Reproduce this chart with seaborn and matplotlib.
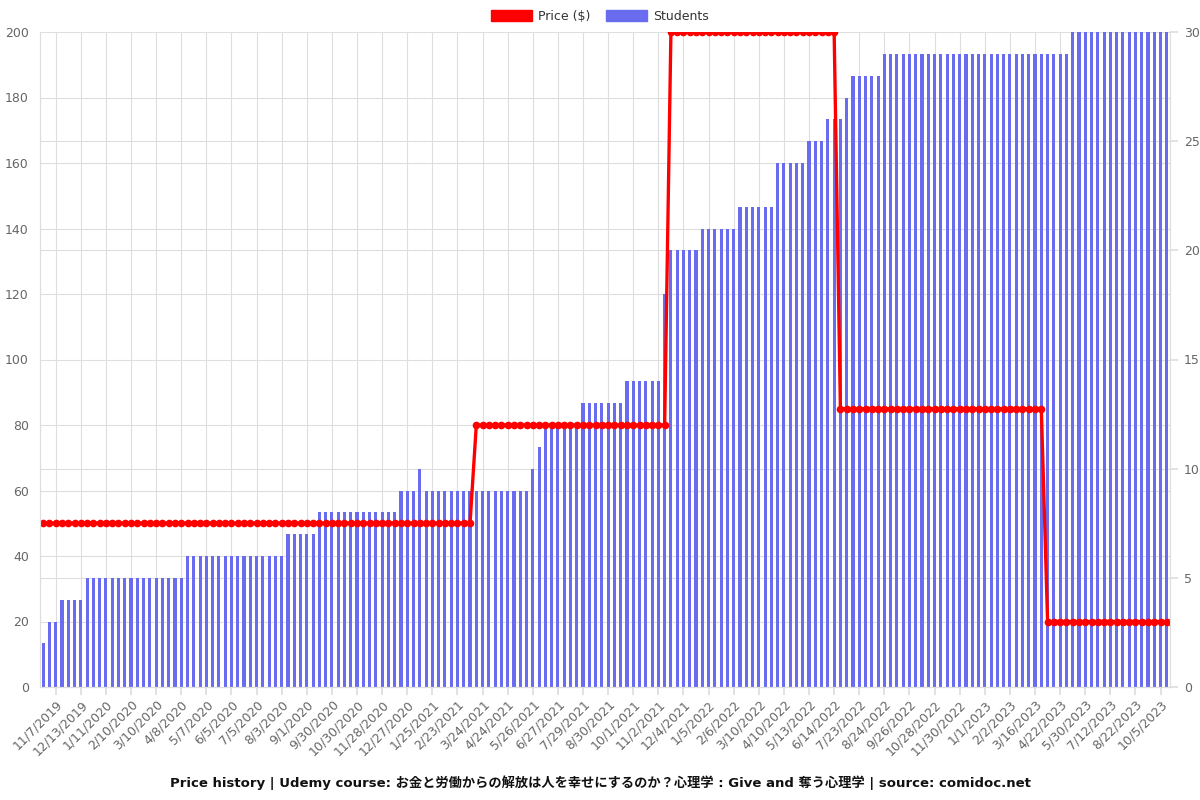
import numpy as np
import pandas as pd
import matplotlib
matplotlib.use("Agg")
import matplotlib.pyplot as plt
from matplotlib.patches import Patch
import seaborn as sns

# ---------------- data ----------------
students = [
    2, 3, 3, 4, 4, 4, 4, 5, 5, 5, 5, 5, 5, 5, 5, 5, 5, 5, 5, 5,
    5, 5, 5, 6, 6, 6, 6, 6, 6, 6, 6, 6, 6, 6, 6, 6, 6, 6, 6, 7,
    7, 7, 7, 7, 8, 8, 8, 8, 8, 8, 8, 8, 8, 8, 8, 8, 8, 9, 9, 9,
    10, 9, 9, 9, 9, 9, 9, 9, 9, 9, 9, 9, 9, 9, 9, 9, 9, 9, 10, 11,
    12, 12, 12, 12, 12, 12, 13, 13, 13, 13, 13, 13, 13, 14, 14, 14, 14, 14, 14, 18,
    20, 20, 20, 20, 20, 21, 21, 21, 21, 21, 21, 22, 22, 22, 22, 22, 22, 24, 24, 24,
    24, 24, 25, 25, 25, 26, 26, 26, 27, 28, 28, 28, 28, 28, 29, 29, 29, 29, 29, 29,
    29, 29, 29, 29, 29, 29, 29, 29, 29, 29, 29, 29, 29, 29, 29, 29, 29, 29, 29, 29,
    29, 29, 29, 29, 30, 30, 30, 30, 30, 30, 30, 30, 30, 30, 30, 30, 30, 30, 30, 30,
]

price = [
    50, 50, 50, 50, 50, 50, 50, 50, 50, 50, 50, 50, 50, 50, 50, 50, 50, 50, 50, 50,
    50, 50, 50, 50, 50, 50, 50, 50, 50, 50, 50, 50, 50, 50, 50, 50, 50, 50, 50, 50,
    50, 50, 50, 50, 50, 50, 50, 50, 50, 50, 50, 50, 50, 50, 50, 50, 50, 50, 50, 50,
    50, 50, 50, 50, 50, 50, 50, 50, 50, 80, 80, 80, 80, 80, 80, 80, 80, 80, 80, 80,
    80, 80, 80, 80, 80, 80, 80, 80, 80, 80, 80, 80, 80, 80, 80, 80, 80, 80, 80, 80,
    200, 200, 200, 200, 200, 200, 200, 200, 200, 200, 200, 200, 200, 200, 200, 200, 200, 200, 200, 200,
    200, 200, 200, 200, 200, 200, 200, 85, 85, 85, 85, 85, 85, 85, 85, 85, 85, 85, 85, 85,
    85, 85, 85, 85, 85, 85, 85, 85, 85, 85, 85, 85, 85, 85, 85, 85, 85, 85, 85, 85,
    20, 20, 20, 20, 20, 20, 20, 20, 20, 20, 20, 20, 20, 20, 20, 20, 20, 20, 20, 20,
]

tick_labels = [
    "11/7/2019", "12/13/2019", "1/11/2020", "2/10/2020", "3/10/2020", "4/8/2020",
    "5/7/2020", "6/5/2020", "7/5/2020", "8/3/2020", "9/1/2020", "9/30/2020",
    "10/30/2020", "11/28/2020", "12/27/2020", "1/25/2021", "2/23/2021", "3/24/2021",
    "4/24/2021", "5/26/2021", "6/27/2021", "7/29/2021", "8/30/2021", "10/1/2021",
    "11/2/2021", "12/4/2021", "1/5/2022", "2/6/2022", "3/10/2022", "4/10/2022",
    "5/13/2022", "6/14/2022", "7/23/2022", "8/24/2022", "9/26/2022", "10/28/2022",
    "11/30/2022", "1/1/2023", "2/2/2023", "3/16/2023", "4/22/2023", "5/30/2023",
    "7/12/2023", "8/22/2023", "10/5/2023",
]

price_ticks = [0, 20, 40, 60, 80, 100, 120, 140, 160, 180, 200]
student_ticks = [0, 5, 10, 15, 20, 25, 30]

title = ("Price history | Udemy course: お金と労働からの解放は人を幸せにするのか？心理学"
         " : Give and 奪う心理学 | source: comidoc.net")

# ---------------- style ----------------
sns.set_theme(style="white")
plt.rcParams["font.family"] = ["DejaVu Sans", "Noto Sans CJK JP"]

BAR = "#6a6cf0"
RED = "#ff0000"
GRID = "#dedede"
TXT = "#666666"

df = pd.DataFrame({"idx": np.arange(len(students)), "students": students, "price": price})
n = len(df)

fig = plt.figure(figsize=(12, 8), dpi=100)
ax_s = fig.add_axes([40 / 1200, 1 - 687 / 800, 1130 / 1200, 655 / 800])
ax_p = ax_s.twinx()

# bars (students) on bottom axes
sns.barplot(data=df, x="idx", y="students", ax=ax_s, color=BAR, width=0.5,
            saturation=1, linewidth=0, native_scale=True)
ax_s.set_xlim(-0.5, n - 0.5)
ax_s.set_ylim(0, 30)

# grids on bottom axes (behind bars)
ax_s.set_axisbelow(True)
ax_s.set_yticks(student_ticks)
ax_s.set_yticks(np.array(price_ticks) * 30 / 200, minor=True)
ax_s.grid(True, axis="y", which="both", color=GRID, linewidth=0.8)
tick_pos = [2 + 4 * k for k in range(len(tick_labels))]
ax_s.set_xticks(tick_pos)
ax_s.set_xticklabels(tick_labels, rotation=45, ha="right", rotation_mode="anchor",
                     fontsize=9, color=TXT)
ax_s.grid(True, axis="x", color=GRID, linewidth=0.8)
ax_s.yaxis.tick_right()
ax_s.yaxis.set_label_position("right")
ax_s.tick_params(axis="y", which="major", labelsize=9, labelcolor=TXT, length=6,
                 color=GRID, direction="out", right=True, left=False, pad=4)
ax_s.tick_params(axis="y", which="minor", length=0, left=False, right=False)
ax_s.tick_params(axis="x", length=6, color=GRID, direction="out", bottom=True, pad=2)
ax_s.set_xlabel("")
ax_s.set_ylabel("")

# price line on top axes
sns.lineplot(data=df, x="idx", y="price", ax=ax_p, color=RED, linewidth=2.4,
             marker="o", markersize=5.5, markeredgewidth=0, markerfacecolor=RED)
ax_p.set_ylim(0, 200)
ax_p.set_xlim(-0.5, n - 0.5)
ax_p.yaxis.tick_left()
ax_p.yaxis.set_label_position("left")
ax_p.set_yticks(price_ticks)
ax_p.tick_params(axis="y", labelsize=9, labelcolor=TXT, length=0, pad=8,
                 left=True, right=False)
ax_p.set_xlabel("")
ax_p.set_ylabel("")

for a in (ax_s, ax_p):
    for side, sp in a.spines.items():
        sp.set_color(GRID)
        sp.set_linewidth(0.8)
    a.spines["top"].set_visible(False)

# legend
handles = [Patch(facecolor=RED, edgecolor=RED, label="Price ($)"),
           Patch(facecolor=BAR, edgecolor=BAR, label="Students")]
fig.legend(handles=handles, loc="center", bbox_to_anchor=(0.5, 1 - 16 / 800), ncol=2,
           frameon=False, fontsize=9, handlelength=3.3, handleheight=1.0,
           columnspacing=1.2, handletextpad=0.5, labelcolor="#333333")

fig.text(0.5, 1 - 783 / 800, title, ha="center", va="center", fontsize=9.5,
         fontweight="bold", color="#111111")

fig.savefig("out.png", dpi=100)
